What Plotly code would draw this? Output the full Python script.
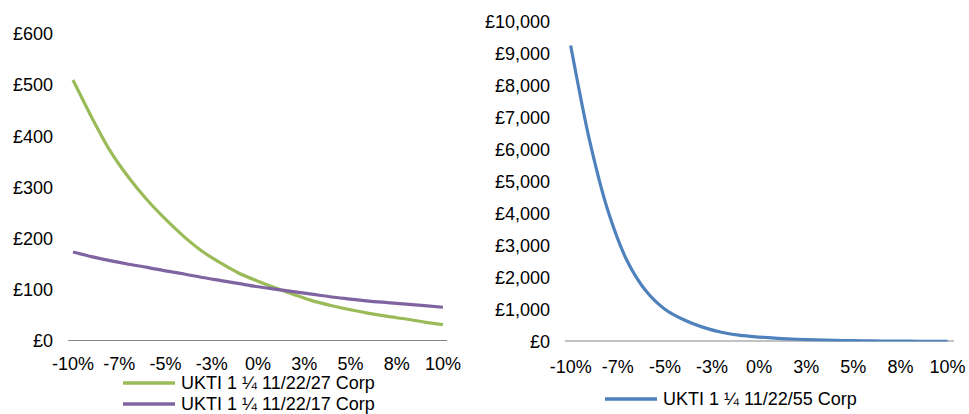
import plotly.graph_objects as go

W, H = 969, 414

# Rate shift scenarios (%)
shift_pct = [-10, -9, -8, -7, -6, -5, -4, -3, -2, -1, 0, 1, 2, 3, 4, 5, 6, 7, 8, 9, 10]

# Values (£) per bond under each scenario
ukti_27 = [510, 438, 372, 320, 276, 238, 204, 175, 152, 132, 117, 103, 90, 78, 69, 61, 54, 48, 43, 37, 32]
ukti_17 = [174, 165, 157, 150, 144, 137, 131, 124, 118, 112, 106, 101, 96, 91, 86, 82, 78, 75, 72, 69, 66]
ukti_55 = [9266, 6300, 4050, 2520, 1580, 1010, 680, 450, 290, 190, 140, 100, 70, 50, 35, 25, 18, 13, 10, 7, 5]

# Axis tick labels
x_tickvals = [-10, -7.5, -5, -2.5, 0, 2.5, 5, 7.5, 10]
x_ticktext = ["-10%", "-7%", "-5%", "-3%", "0%", "3%", "5%", "8%", "10%"]

series_left = [
    ("UKTI 1 ¼ 11/22/27 Corp", ukti_27, "#9BBB59"),
    ("UKTI 1 ¼ 11/22/17 Corp", ukti_17, "#8064A2"),
]
series_right = [("UKTI 1 ¼ 11/22/55 Corp", ukti_55, "#4F81BD")]

FONT = dict(family="Liberation Sans, Arial, sans-serif", size=18, color="#000000")
AXIS_GREY = "#868686"


def px_x(p):
    return p / W


def px_y(p):
    return (H - p) / H


fig = go.Figure()
for name, vals, col in series_left:
    fig.add_trace(go.Scatter(x=shift_pct, y=vals, name=name, mode="lines",
                             line=dict(color=col, width=3.2, shape="spline", smoothing=0.8),
                             xaxis="x", yaxis="y", showlegend=False))
for name, vals, col in series_right:
    fig.add_trace(go.Scatter(x=shift_pct, y=vals, name=name, mode="lines",
                             line=dict(color=col, width=3.2, shape="spline", smoothing=0.8),
                             xaxis="x2", yaxis="y2", showlegend=False))

xcommon = dict(tickmode="array", tickvals=x_tickvals, ticktext=x_ticktext,
               showgrid=False, zeroline=False, showline=False, ticks="",
               tickfont=FONT, automargin=False)
ycommon = dict(showgrid=False, zeroline=False, showline=False, ticks="",
               tickfont=FONT, tickprefix="£", tickformat=",d", ticklabelstandoff=14,
               automargin=False)

fig.update_layout(
    template="none",
    width=W, height=H,
    margin=dict(l=0, r=0, t=0, b=0, pad=0),
    paper_bgcolor="white", plot_bgcolor="white",
    font=FONT,
    xaxis=dict(domain=[px_x(68), px_x(447)], range=[-10.27, 10.22], anchor="y",
               ticklabelstandoff=10, **xcommon),
    yaxis=dict(domain=[px_y(341), px_y(34)], range=[0, 600], dtick=100, anchor="x", **ycommon),
    xaxis2=dict(domain=[px_x(565), px_x(954)], range=[-10.3, 10.34], anchor="y2",
                ticklabelstandoff=12, **xcommon),
    yaxis2=dict(domain=[px_y(341.5), px_y(22)], range=[0, 10000], dtick=1000, anchor="x2", **ycommon),
)

# Horizontal category axis lines at zero
shapes = [
    dict(type="line", xref="x domain", yref="y", x0=0, x1=1, y0=0, y1=0,
         line=dict(color=AXIS_GREY, width=2), layer="below"),
    dict(type="line", xref="x2 domain", yref="y2", x0=0, x1=1, y0=0, y1=0,
         line=dict(color=AXIS_GREY, width=2), layer="below"),
]

# Legends: sample line plus label under each panel
legend_items = [
    (series_left[0], 123, 175, 383),
    (series_left[1], 123, 175, 404),
    (series_right[0], 605, 657, 399),
]
annotations = []
for (name, _, col), lx0, lx1, ly in legend_items:
    shapes.append(dict(type="line", xref="paper", yref="paper",
                       x0=px_x(lx0), x1=px_x(lx1), y0=px_y(ly), y1=px_y(ly),
                       line=dict(color=col, width=3.5)))
    annotations.append(dict(text=name, xref="paper", yref="paper",
                            x=px_x(lx1 + 4), y=px_y(ly), xanchor="left", yanchor="middle",
                            showarrow=False, font=FONT))

fig.update_layout(shapes=shapes, annotations=annotations)
fig.write_html("out.html")
